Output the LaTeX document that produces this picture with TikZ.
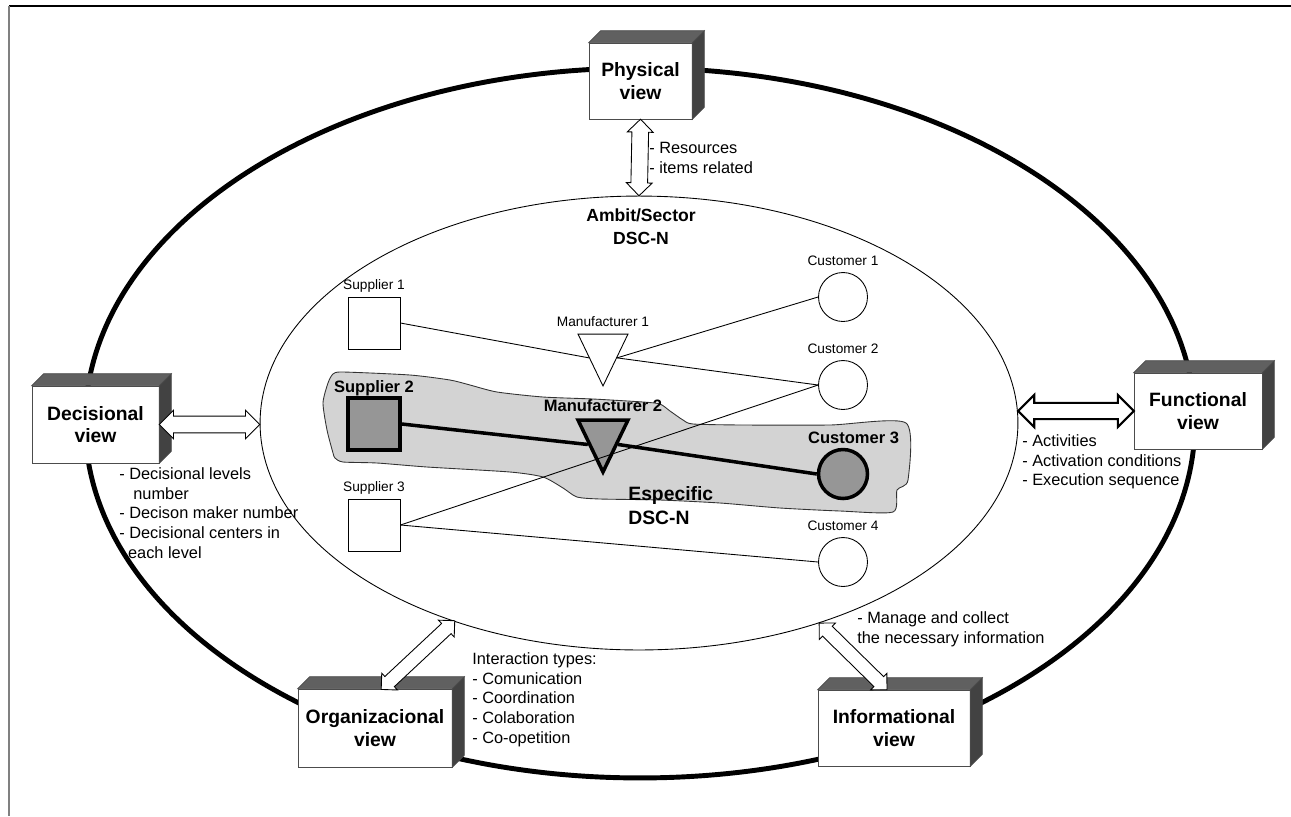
\documentclass[tikz,border=0pt]{standalone}
\usepackage{fontspec}
\setmainfont{Liberation Sans}
\usepackage{tikz}
\usetikzlibrary{positioning,shapes.geometric,shapes.arrows}
\definecolor{blobgray}{HTML}{D3D3D3}
\definecolor{nodegray}{HTML}{969696}
\definecolor{topgray}{HTML}{606060}
\definecolor{sidegray}{HTML}{424242}

\begin{document}
\begin{tikzpicture}[x=0.02cm,y=-0.02cm,
    viewbox/.style={draw=black!70,fill=white,inner sep=0pt,align=center,font=\bfseries\fontsize{11}{13}\selectfont},
    topface/.style={draw=black!70,fill=topgray},
    sideface/.style={draw=black!70,fill=sidegray},
    dblarrow/.style={double arrow,draw,fill=white,inner xsep=0pt,inner ysep=4.5pt,double arrow head extend=2.6pt,line width=0.5pt},
    note/.style={align=left,anchor=north west,inner sep=0pt,font=\fontsize{9.3}{11.3}\selectfont},
    lbl/.style={inner sep=0pt,text depth=0pt,font=\fontsize{7.8}{9}\selectfont},
    blbl/.style={inner sep=0pt,text depth=0pt,font=\bfseries\fontsize{9.4}{11}\selectfont},
    supbox/.style={draw,fill=white,minimum size=1.04cm,inner sep=0pt,line width=0.5pt},
    custnode/.style={circle,draw,fill=white,minimum size=0.98cm,inner sep=0pt,line width=0.5pt},
    manunode/.style={isosceles triangle,isosceles triangle apex angle=51.4,shape border rotate=270,draw,fill=white,minimum width=1cm,minimum height=1cm,inner sep=0pt,anchor=apex,line width=0.5pt},
    chosen/.style={fill=nodegray,line width=2pt}]
  \useasboundingbox (0,0) rectangle (1291,816);
  % frame
  \draw[line width=1.1pt] (9,6) -- (1291,6);
  \draw[gray,line width=1.1pt] (9,6) -- (9,816);

  % ellipses
  \node[ellipse,draw,line width=2.8pt,minimum width=22.2cm,minimum height=14.2cm] (outer) at (640,423) {};
  \node[ellipse,draw,line width=0.5pt,minimum width=15.16cm,minimum height=9.08cm] (ambit) at (639,423) {};
  \node[font=\bfseries\fontsize{10}{13}\selectfont,align=center] (ambitlbl) at (641,227) {Ambit/Sector\\DSC-N};

  % especific chain
  \filldraw[fill=blobgray,draw=black!80,line width=0.5pt] plot[smooth cycle,tension=0.4] coordinates {
    (333,374) (343,372) (410,375) (450,380) (470,385) (497,392) (543,397) (593,399)
    (643,402) (660,404) (670,411) (683,420) (693,424) (743,425) (830,425) (906,423)
    (908,480) (897,490) (893,512) (840,511) (780,508) (720,503) (660,500) (600,499)
    (577,497) (563,488) (543,477) (510,472) (427,467) (377,463) (343,462) (335,458)
    (333,453) (327,430) (323,403) (328,383)};
  \node[font=\bfseries\fontsize{11}{13.6}\selectfont,align=left,anchor=north west,inner sep=0pt] (esplbl) at (628,486) {Especific\\DSC-N};

  \node[supbox] (s1) at (374,323) {};
  \node[supbox,chosen] (s2) at (374,424) {};
  \node[supbox] (s3) at (374,525) {};
  \node[manunode] (m1) at (603,387) {};
  \node[manunode,chosen] (m2) at (603,476) {};
  \node[custnode] (c1) at (843,297) {};
  \node[custnode] (c2) at (843,385) {};
  \node[custnode,chosen] (c3) at (843,474) {};
  \node[custnode] (c4) at (843,562) {};

  \node[lbl,above=4pt of s1] (s1lbl) {Supplier 1};
  \node[blbl,above=1.7pt of s2] (s2lbl) {Supplier 2};
  \node[lbl,above=4pt of s3] (s3lbl) {Supplier 3};
  \node[lbl,above=4pt of m1] (m1lbl) {Manufacturer 1};
  \node[blbl,above=3.4pt of m2] (m2lbl) {Manufacturer 2};
  \node[lbl,above=3.5pt of c1] (c1lbl) {Customer 1};
  \node[lbl,above=3.5pt of c2] (c2lbl) {Customer 2};
  \node[blbl,above=2.3pt of c3,xshift=6pt] (c3lbl) {Customer 3};
  \node[lbl,above=3.5pt of c4] (c4lbl) {Customer 4};

  \draw[line width=0.5pt] (s1.east) -- (m1.210);
  \draw[line width=0.5pt] (m1.330) -- (c1.west);
  \draw[line width=0.5pt] (m1.330) -- (c2.west);
  \draw[line width=0.5pt] (s3.east) -- (c2.west);
  \draw[line width=0.5pt] (s3.east) -- (c4.west);
  \draw[line width=2pt] (s2.east) -- (m2.210);
  \draw[line width=2pt] (m2.330) -- (c3.west);

  % views
  \node[viewbox,minimum width=2.06cm,minimum height=1.52cm] (phys) at (640.5,81) {Physical\\view};
  \node[viewbox,minimum width=2.54cm,minimum height=1.54cm] (dec) at (95.5,424.5) {Decisional\\view};
  \node[viewbox,minimum width=2.56cm,minimum height=1.52cm] (func) at (1198,411) {Functional\\view};
  \node[viewbox,minimum width=3.08cm,minimum height=1.56cm] (org) at (375,728) {Organizacional\\view};
  \node[viewbox,minimum width=3.04cm,minimum height=1.52cm] (info) at (894,728) {Informational\\view};
  \foreach \v in {phys,dec,func,org,info} {
    \filldraw[topface] (\v.north west) -- ++(12,-12) -- ([shift={(12,-12)}]\v.north east) -- (\v.north east) -- cycle;
    \filldraw[sideface] (\v.north east) -- ([shift={(12,-12)}]\v.north east) -- ([shift={(12,-12)}]\v.south east) -- (\v.south east) -- cycle;
  }

  % arrows
  \path (phys.south) -- (ambit.north) node[dblarrow,midway,sloped,minimum height=43.6pt] (physarr) {};
  \path (dec.east) -- (ambit.west |- dec.east) node[dblarrow,midway,sloped,double arrow head extend=3.4pt,minimum height=57.3pt] (decarr) {};
  \path (func.west) -- (ambit.east |- func.west) node[dblarrow,midway,sloped,line width=1.2pt,inner ysep=4pt,double arrow head extend=4.5pt,minimum height=65.8pt] (funcarr) {};
  \path ([xshift=4pt]org.north) -- (ambit.227) node[dblarrow,midway,sloped,inner ysep=3.7pt,minimum height=57.3pt] (orgarr) {};
  \path ([xshift=-4pt]info.north) -- (ambit.312) node[dblarrow,midway,sloped,inner ysep=3.7pt,minimum height=54.1pt] (infoarr) {};

  % notes
  \node[note] (physnote) at (649,142) {- Resources\\- items related};
  \node[note] (decnote) at (119,467) {- Decisional levels\\\hspace*{8pt}number\\- Decison maker number\\- Decisional centers in\\\hspace*{5pt}each level};
  \node[note] (funcnote) at (1022,434) {- Activities\\- Activation conditions\\- Execution sequence};
  \node[note] (infonote) at (857,611) {- Manage and collect\\the necessary information};
  \node[note] (orgnote) at (472,652) {Interaction types:\\- Comunication\\- Coordination\\- Colaboration\\- Co-opetition};
\end{tikzpicture}
\end{document}
